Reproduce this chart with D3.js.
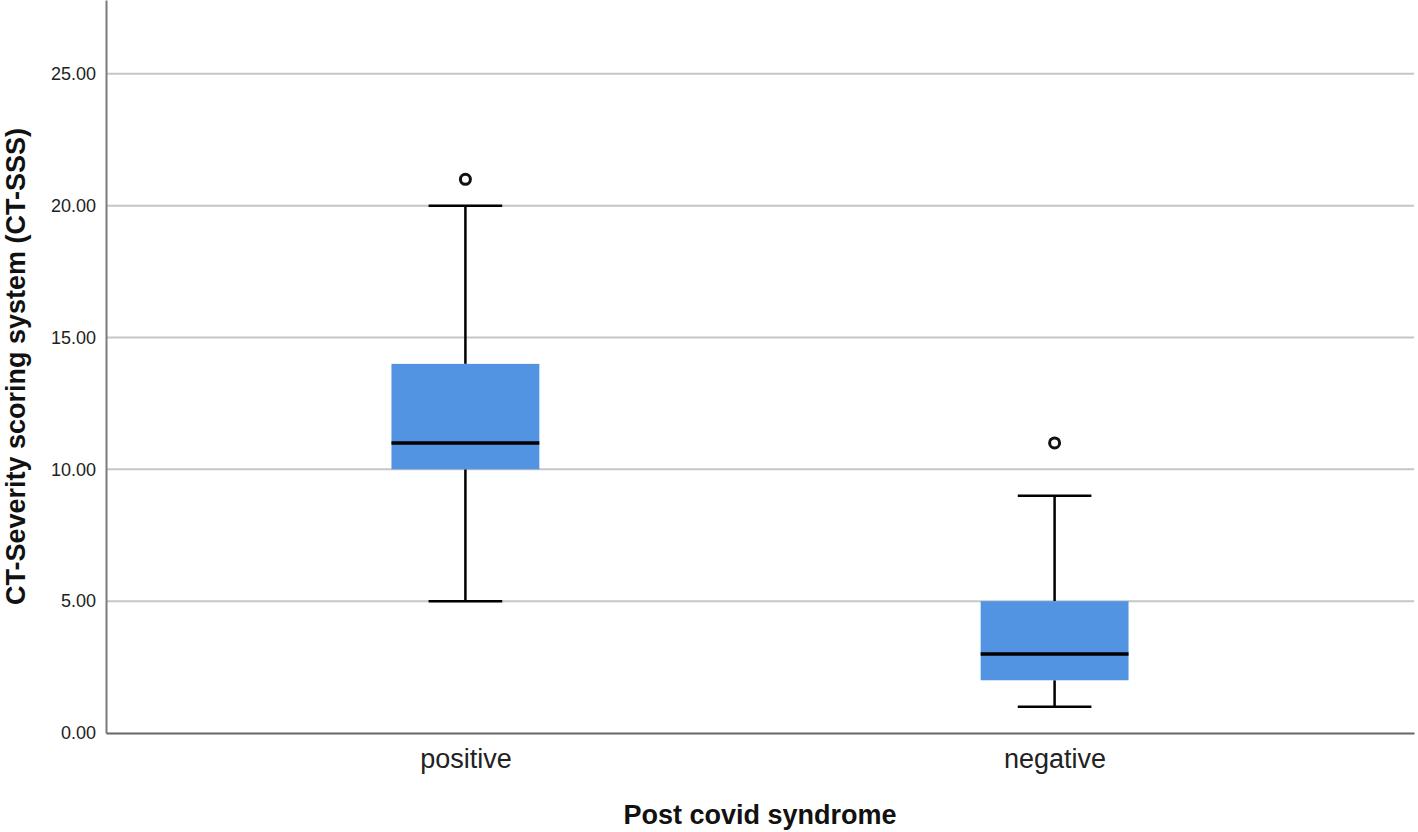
<!DOCTYPE html>
<html><head><meta charset="utf-8">
<script src="https://cdn.jsdelivr.net/npm/d3@7/dist/d3.min.js"></script>
<style>body{margin:0;background:#fff}svg{display:block;font-family:"Liberation Sans",Arial,sans-serif}</style>
</head><body><svg id="c" width="1418" height="832"></svg>
<script>
const categories = ["positive", "negative"];
const mins = [5, 1];
const q1s = [10, 2];
const medians = [11, 3];
const q3s = [14, 5];
const maxs = [20, 9];
const outliers = [[21], [11]];
const yTicks = [0, 5, 10, 15, 20, 25];

const svg = d3.select("#c");
const L = 106, R = 1414, T = 0, B = 733;
const y = d3.scaleLinear().domain([0, 27.8]).range([B, T]);
const x = d3.scalePoint().domain(categories).range([L, R]).padding(0.61);
const step = x.step();
const boxW = step * 0.251, capW = step * 0.125;

// gridlines
svg.append("g").selectAll("line").data(yTicks.filter(d => d > 0)).join("line")
  .attr("x1", L).attr("x2", R).attr("y1", d => y(d)).attr("y2", d => y(d))
  .attr("stroke", "#c6c6c6").attr("stroke-width", 2);

// y axis
const ya = svg.append("g").attr("transform", `translate(${L},0)`)
  .call(d3.axisLeft(y).tickValues(yTicks).tickFormat(d3.format(".2f")).tickSize(0).tickPadding(10));
ya.select(".domain").attr("stroke", "#7a7a7a").attr("stroke-width", 2);
ya.selectAll("text").attr("font-size", 18).attr("fill", "#222").attr("font-family", "Liberation Sans, Arial, sans-serif");

// x axis
const xa = svg.append("g").attr("transform", `translate(0,${B})`)
  .call(d3.axisBottom(x).tickSize(0).tickPadding(16));
xa.select(".domain").attr("stroke", "#666").attr("stroke-width", 2);
xa.selectAll("text").attr("font-size", 27).attr("fill", "#222").attr("font-family", "Liberation Sans, Arial, sans-serif");

const data = categories.map((c, i) => ({c, min: mins[i], q1: q1s[i], med: medians[i], q3: q3s[i], max: maxs[i], out: outliers[i]}));
const g = svg.append("g").selectAll("g").data(data).join("g");

// whiskers
g.append("line").attr("x1", d => x(d.c)).attr("x2", d => x(d.c))
  .attr("y1", d => y(d.max)).attr("y2", d => y(d.q3)).attr("stroke", "#000").attr("stroke-width", 2.5);
g.append("line").attr("x1", d => x(d.c)).attr("x2", d => x(d.c))
  .attr("y1", d => y(d.min)).attr("y2", d => y(d.q1)).attr("stroke", "#000").attr("stroke-width", 2.5);
g.append("line").attr("x1", d => x(d.c) - capW/2).attr("x2", d => x(d.c) + capW/2)
  .attr("y1", d => y(d.max)).attr("y2", d => y(d.max)).attr("stroke", "#000").attr("stroke-width", 2.5);
g.append("line").attr("x1", d => x(d.c) - capW/2).attr("x2", d => x(d.c) + capW/2)
  .attr("y1", d => y(d.min)).attr("y2", d => y(d.min)).attr("stroke", "#000").attr("stroke-width", 2.5);

// box
g.append("rect").attr("x", d => x(d.c) - boxW/2).attr("width", boxW)
  .attr("y", d => y(d.q3)).attr("height", d => y(d.q1) - y(d.q3))
  .attr("fill", "#5294e2");
// median
g.append("line").attr("x1", d => x(d.c) - boxW/2).attr("x2", d => x(d.c) + boxW/2)
  .attr("y1", d => y(d.med)).attr("y2", d => y(d.med)).attr("stroke", "#000").attr("stroke-width", 3.5);

// outliers
g.selectAll("circle").data(d => d.out.map(v => ({c: d.c, v}))).join("circle")
  .attr("cx", d => x(d.c)).attr("cy", d => y(d.v)).attr("r", 5)
  .attr("fill", "#fff").attr("stroke", "#111").attr("stroke-width", 3);

// titles
svg.append("text").attr("x", (L + R)/2).attr("y", 824).attr("text-anchor", "middle")
  .attr("font-size", 27).attr("font-weight", "bold").attr("fill", "#111").text("Post covid syndrome");
svg.append("text").attr("transform", `translate(25,${(T + B)/2}) rotate(-90)`).attr("text-anchor", "middle")
  .attr("font-size", 27).attr("font-weight", "bold").attr("fill", "#111").text("CT-Severity scoring system (CT-SSS)");
</script></body></html>
